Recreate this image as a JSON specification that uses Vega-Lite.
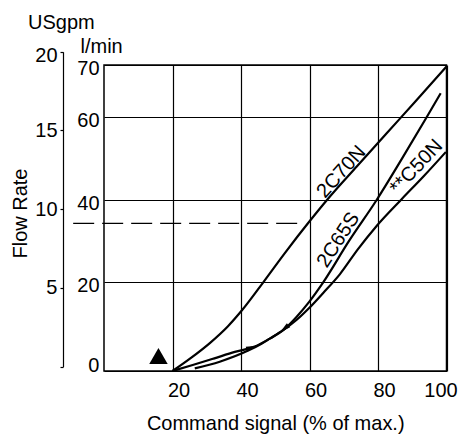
{
  "$schema": "https://vega.github.io/schema/vega-lite/v6.json",
  "width": 342.5,
  "height": 306,
  "autosize": "none",
  "padding": {"left": 104, "top": 65, "right": 12.3, "bottom": 66},
  "config": {
    "font": "Liberation Sans",
    "view": {"stroke": "#000", "strokeWidth": 1.5},
    "axis": {
      "labelFontSize": 20, "titleFontSize": 20, "labelColor": "#000", "titleColor": "#000",
      "titleFontWeight": "normal", "gridColor": "#000", "gridOpacity": 1, "gridWidth": 1.2,
      "labelFont": "Liberation Sans", "titleFont": "Liberation Sans", "labelFlush": false, "labelOverlap": false
    }
  },
  "title": {"text": "USgpm", "anchor": "start", "frame": "group", "dx": -76, "fontSize": 20, "fontWeight": "normal", "color": "#000", "font": "Liberation Sans", "offset": 4},
  "datasets": {
    "curves": [
      {"curve": "2C70N", "i": 0, "x": 20, "y": 0},
      {"curve": "2C70N", "i": 1, "x": 25.3, "y": 2.9},
      {"curve": "2C70N", "i": 2, "x": 30.9, "y": 6.3},
      {"curve": "2C70N", "i": 3, "x": 36.2, "y": 10.1},
      {"curve": "2C70N", "i": 4, "x": 40.4, "y": 13.8},
      {"curve": "2C70N", "i": 5, "x": 46.5, "y": 20},
      {"curve": "2C70N", "i": 6, "x": 52.8, "y": 27.1},
      {"curve": "2C70N", "i": 7, "x": 59.9, "y": 34.7},
      {"curve": "2C70N", "i": 8, "x": 65.1, "y": 40},
      {"curve": "2C70N", "i": 9, "x": 73.8, "y": 48.1},
      {"curve": "2C70N", "i": 10, "x": 82.6, "y": 56.2},
      {"curve": "2C70N", "i": 11, "x": 91.3, "y": 63.3},
      {"curve": "2C70N", "i": 12, "x": 100, "y": 69.7},
      {"curve": "2C65S", "i": 0, "x": 20, "y": 0},
      {"curve": "2C65S", "i": 1, "x": 25.9, "y": 1.35},
      {"curve": "2C65S", "i": 2, "x": 32, "y": 2.8},
      {"curve": "2C65S", "i": 3, "x": 38.2, "y": 4.3},
      {"curve": "2C65S", "i": 4, "x": 44, "y": 5.5},
      {"curve": "2C65S", "i": 5, "x": 48.4, "y": 7.3},
      {"curve": "2C65S", "i": 6, "x": 52.3, "y": 9.2},
      {"curve": "2C65S", "i": 7, "x": 56.2, "y": 12.2},
      {"curve": "2C65S", "i": 8, "x": 59.9, "y": 15.6},
      {"curve": "2C65S", "i": 9, "x": 64, "y": 20},
      {"curve": "2C65S", "i": 10, "x": 71.5, "y": 30},
      {"curve": "2C65S", "i": 11, "x": 79.6, "y": 40},
      {"curve": "2C65S", "i": 12, "x": 87, "y": 50},
      {"curve": "2C65S", "i": 13, "x": 94.2, "y": 60},
      {"curve": "2C65S", "i": 14, "x": 98.3, "y": 64.6},
      {"curve": "**C50N", "i": 0, "x": 26.5, "y": 0.6},
      {"curve": "**C50N", "i": 1, "x": 33.8, "y": 2.1},
      {"curve": "**C50N", "i": 2, "x": 42.1, "y": 4.6},
      {"curve": "**C50N", "i": 3, "x": 46.1, "y": 6.2},
      {"curve": "**C50N", "i": 4, "x": 48.4, "y": 7.3},
      {"curve": "**C50N", "i": 5, "x": 52.3, "y": 9.2},
      {"curve": "**C50N", "i": 6, "x": 56.2, "y": 11.5},
      {"curve": "**C50N", "i": 7, "x": 59.9, "y": 14.2},
      {"curve": "**C50N", "i": 8, "x": 64, "y": 17.6},
      {"curve": "**C50N", "i": 9, "x": 68.9, "y": 22},
      {"curve": "**C50N", "i": 10, "x": 74.1, "y": 28},
      {"curve": "**C50N", "i": 11, "x": 79.6, "y": 33.7},
      {"curve": "**C50N", "i": 12, "x": 86.9, "y": 40.2},
      {"curve": "**C50N", "i": 13, "x": 93.4, "y": 45.8},
      {"curve": "**C50N", "i": 14, "x": 99.8, "y": 51.6}
    ],
    "labels": [
      {"label": "2C70N", "x": 69.3, "y": 46.8},
      {"label": "2C65S", "x": 68.4, "y": 30.3},
      {"label": "**C50N", "x": 91.2, "y": 48}
    ],
    "marker": [{"x": 15.9, "y": 3.4}],
    "arrowUp": [{"x": 43.2, "y": 5.3}],
    "arrowDown": [{"x": 52.6, "y": 9.5}],
    "ref": [{"x": -9, "x2": 58, "gpm": 9.1}]
  },
  "layer": [
    {
      "layer": [
        {
          "data": {"name": "curves"},
          "mark": {"type": "line", "color": "#000", "strokeWidth": 2.2, "interpolate": "monotone"},
          "encoding": {
            "x": {"field": "x", "type": "quantitative", "scale": {"domain": [0, 100], "nice": false, "zero": false},
              "axis": {"values": [20, 40, 60, 80, 100], "grid": true, "ticks": false, "domain": false, "labelPadding": 10,
                "labelOffset": {"condition": {"test": "datum.value == 100", "value": -6}, "value": 6},
                "title": "Command signal (% of max.)", "titlePadding": 13}},
            "y": {"field": "y", "type": "quantitative",
              "scale": {"domain": [0, 20, 40, 60, 70], "range": [306, 217.3, 135, 52.3, 0], "nice": false, "zero": false},
              "axis": {"orient": "left", "values": [0, 20, 40, 60, 70], "grid": true, "ticks": false, "domain": false, "labelPadding": 5,
                "labelOffset": {"condition": {"test": "datum.value == 0", "value": -5}, "value": 3},
                "title": "l/min", "titleAngle": 0, "titleAlign": "left", "titleBaseline": "alphabetic", "titleX": -24, "titleY": -12.3}},
            "detail": {"field": "curve"},
            "order": {"field": "i", "type": "quantitative"}
          }
        },
        {
          "data": {"name": "labels"},
          "transform": [{"filter": "datum.label == '2C70N'"}],
          "mark": {"type": "text", "fontSize": 20, "font": "Liberation Sans", "color": "#000", "angle": 312, "align": "center", "baseline": "middle"},
          "encoding": {"x": {"field": "x", "type": "quantitative"}, "y": {"field": "y", "type": "quantitative"}, "text": {"field": "label"}}
        },
        {
          "data": {"name": "labels"},
          "transform": [{"filter": "datum.label == '2C65S'"}],
          "mark": {"type": "text", "fontSize": 20, "font": "Liberation Sans", "color": "#000", "angle": 303, "align": "center", "baseline": "middle"},
          "encoding": {"x": {"field": "x", "type": "quantitative"}, "y": {"field": "y", "type": "quantitative"}, "text": {"field": "label"}}
        },
        {
          "data": {"name": "labels"},
          "transform": [{"filter": "datum.label == '**C50N'"}],
          "mark": {"type": "text", "fontSize": 20, "font": "Liberation Sans", "color": "#000", "angle": 313, "align": "center", "baseline": "middle"},
          "encoding": {"x": {"field": "x", "type": "quantitative"}, "y": {"field": "y", "type": "quantitative"}, "text": {"field": "label"}}
        },
        {
          "data": {"name": "marker"},
          "mark": {"type": "point", "shape": "triangle-up", "filled": true, "color": "#000", "opacity": 1, "size": 340},
          "encoding": {"x": {"field": "x", "type": "quantitative"}, "y": {"field": "y", "type": "quantitative"}}
        },
        {
          "data": {"name": "arrowUp"},
          "mark": {"type": "point", "shape": "M1,0L-1,-0.45L-1,0.45Z", "filled": true, "color": "#000", "opacity": 1, "size": 130, "angle": 342},
          "encoding": {"x": {"field": "x", "type": "quantitative"}, "y": {"field": "y", "type": "quantitative"}}
        },
        {
          "data": {"name": "arrowDown"},
          "mark": {"type": "point", "shape": "M1,0L-1,-0.45L-1,0.45Z", "filled": true, "color": "#000", "opacity": 1, "size": 130, "angle": 140},
          "encoding": {"x": {"field": "x", "type": "quantitative"}, "y": {"field": "y", "type": "quantitative"}}
        }
      ]
    },
    {
      "data": {"name": "ref"},
      "mark": {"type": "rule", "color": "#000", "strokeWidth": 1.2, "strokeDash": [21, 8]},
      "encoding": {
        "x": {"field": "x", "type": "quantitative"},
        "x2": {"field": "x2"},
        "y": {"field": "gpm", "type": "quantitative",
          "scale": {"domain": [0, 20], "range": [301.7, -13.3], "nice": false, "zero": false},
          "axis": {"orient": "left", "offset": 41, "values": [0, 5, 10, 15, 20], "grid": false,
            "labelExpr": "datum.value == 0 ? '' : datum.label",
            "labelOffset": {"condition": {"test": "datum.value == 20", "value": 4}, "value": 0},
            "domain": true, "domainColor": "#000", "domainWidth": 1.2, "ticks": true, "tickSize": 3, "tickColor": "#000", "tickWidth": 1.2,
            "labelPadding": 3, "title": "Flow Rate", "titleAngle": 270, "titleAlign": "center", "titleBaseline": "middle", "titleX": -42.8, "titleY": 148}}
      }
    }
  ],
  "resolve": {"scale": {"y": "independent"}, "axis": {"y": "independent"}}
}
